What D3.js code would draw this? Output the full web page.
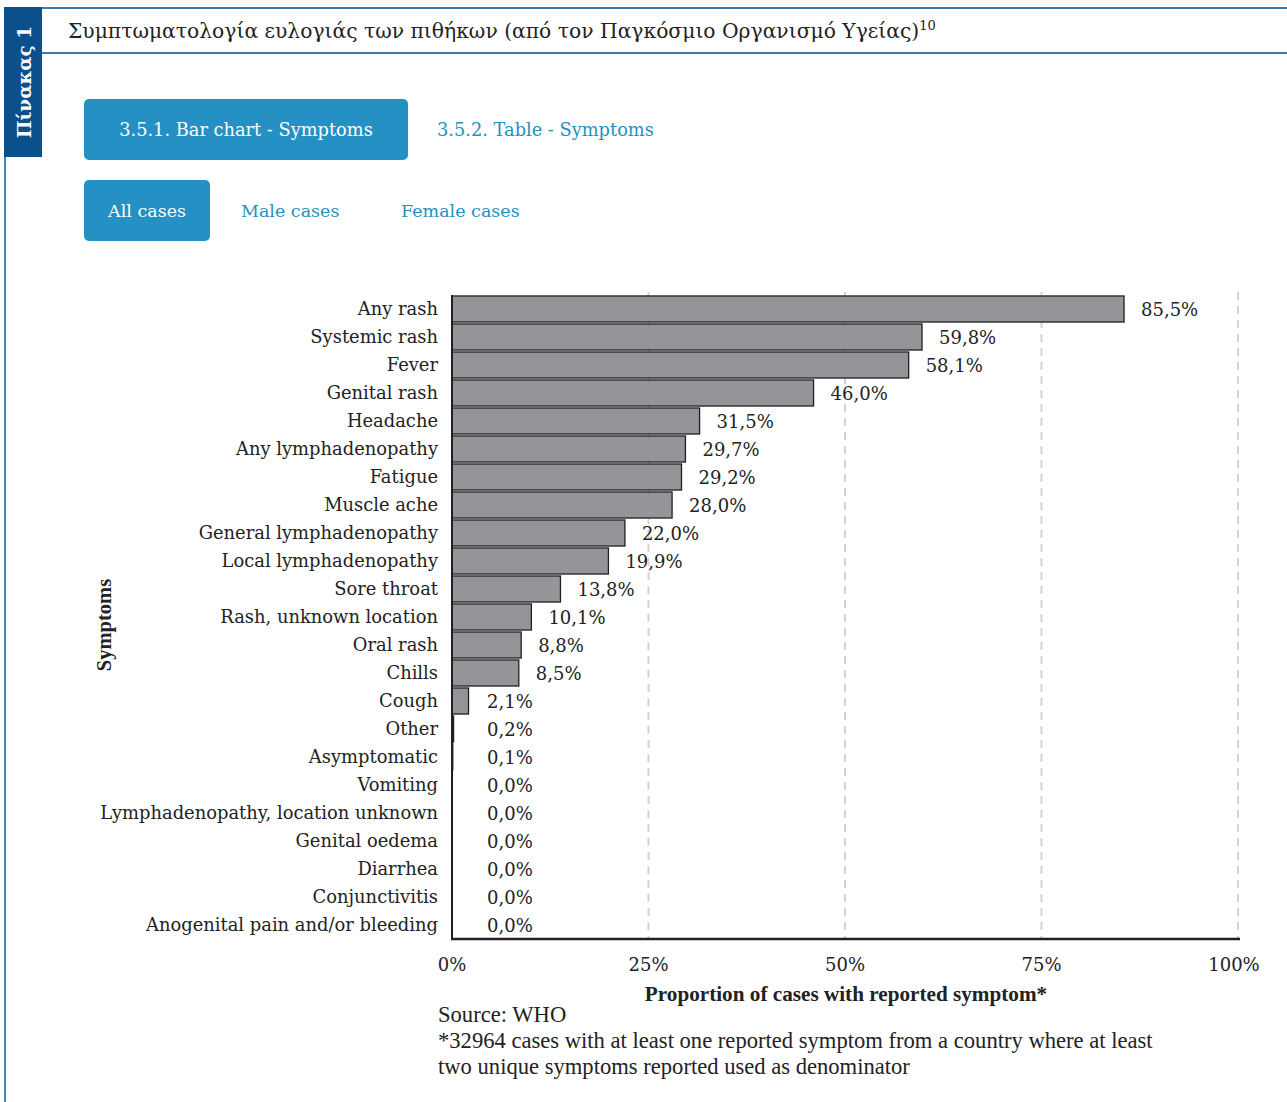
<!DOCTYPE html>
<html><head><meta charset="utf-8">
<script src="https://cdn.jsdelivr.net/npm/d3@7"></script>
<style>
html,body{margin:0;padding:0;background:#fff;}
svg{display:block;}
</style></head>
<body>
<script>
const categories = ["Any rash","Systemic rash","Fever","Genital rash","Headache","Any lymphadenopathy","Fatigue","Muscle ache","General lymphadenopathy","Local lymphadenopathy","Sore throat","Rash, unknown location","Oral rash","Chills","Cough","Other","Asymptomatic","Vomiting","Lymphadenopathy, location unknown","Genital oedema","Diarrhea","Conjunctivitis","Anogenital pain and/or bleeding"];
const values = [85.5,59.8,58.1,46.0,31.5,29.7,29.2,28.0,22.0,19.9,13.8,10.1,8.8,8.5,2.1,0.2,0.1,0.0,0.0,0.0,0.0,0.0,0.0];
const xTicks = [0,25,50,75,100];
const tickLabels = ["0%","25%","50%","75%","100%"];
const title = "Συμπτωματολογία ευλογιάς των πιθήκων (από τον Παγκόσμιο Οργανισμό Υγείας)";
const titleSup = "10";
const tabLabel = "Πίνακας 1";
const tabs1 = ["3.5.1. Bar chart - Symptoms","3.5.2. Table - Symptoms"];
const tabs2 = ["All cases","Male cases","Female cases"];
const xAxisTitle = "Proportion of cases with reported symptom*";
const yAxisTitle = "Symptoms";
const notes = ["Source: WHO","*32964 cases with at least one reported symptom from a country where at least","two unique symptoms reported used as denominator"];

const W = 1287, H = 1102;
const serif = "'DejaVu Serif', serif";
const serif2 = "'Liberation Serif', serif";
const blue = "#2590c3";
const dark = "#231f20";

const svg = d3.select("body").append("svg").attr("width", W).attr("height", H);

// frame
svg.append("rect").attr("x",4).attr("y",7).attr("width",38).attr("height",150).attr("fill","#0b4f8c");
svg.append("line").attr("x1",42).attr("x2",W).attr("y1",8).attr("y2",8).attr("stroke","#3f78ad").attr("stroke-width",2);
svg.append("line").attr("x1",42).attr("x2",W).attr("y1",53).attr("y2",53).attr("stroke","#3f78ad").attr("stroke-width",2);
svg.append("line").attr("x1",5).attr("x2",5).attr("y1",157).attr("y2",H).attr("stroke","#4a86b8").attr("stroke-width",2);
svg.append("text").attr("transform","translate(31,82) rotate(-90)").attr("text-anchor","middle")
  .attr("font-family",serif).attr("font-weight","bold").attr("font-size",18.5).attr("fill","#fff").text(tabLabel);

const t = svg.append("text").attr("x",68).attr("y",38).attr("font-family",serif).attr("font-size",20.3).attr("fill","#222");
t.append("tspan").text(title);
t.append("tspan").attr("dy",-8).attr("font-size",13).text(titleSup);

// tabs
svg.append("rect").attr("x",84).attr("y",99).attr("width",324).attr("height",61).attr("rx",5).attr("fill",blue);
svg.append("text").attr("x",246).attr("y",136).attr("text-anchor","middle").attr("font-family",serif).attr("font-size",17.8).attr("fill","#fff").text(tabs1[0]);
svg.append("text").attr("x",437).attr("y",136).attr("font-family",serif).attr("font-size",17.8).attr("fill",blue).text(tabs1[1]);
svg.append("rect").attr("x",84).attr("y",180).attr("width",126).attr("height",61).attr("rx",5).attr("fill",blue);
svg.append("text").attr("x",147).attr("y",217).attr("text-anchor","middle").attr("font-family",serif).attr("font-size",17.5).attr("fill","#fff").text(tabs2[0]);
svg.append("text").attr("x",241).attr("y",217).attr("font-family",serif).attr("font-size",17.5).attr("fill",blue).text(tabs2[1]);
svg.append("text").attr("x",401).attr("y",217).attr("font-family",serif).attr("font-size",17.5).attr("fill",blue).text(tabs2[2]);

// chart
const x = d3.scaleLinear().domain([0,100]).range([452,1238]);
const y = d3.scaleBand().domain(categories).range([295,939]).paddingInner(0.07).paddingOuter(0.035);

const g = svg.append("g");
g.selectAll("line.grid").data(xTicks.slice(1)).join("line").attr("class","grid")
  .attr("x1",d=>x(d)).attr("x2",d=>x(d)).attr("y1",292).attr("y2",939)
  .attr("stroke","#d3d3d3").attr("stroke-width",2).attr("stroke-dasharray","8,6");

g.selectAll("rect.bar").data(values).join("rect").attr("class","bar")
  .attr("x",x(0)).attr("y",(d,i)=>y(categories[i]))
  .attr("width",d=>x(d)-x(0)).attr("height",y.bandwidth())
  .attr("fill","#939598").attr("stroke",dark).attr("stroke-width",1.3);

g.selectAll("text.val").data(values).join("text").attr("class","val")
  .attr("x",d=>Math.max(x(d)+17,487)).attr("y",(d,i)=>y(categories[i])+y.bandwidth()/2+7)
  .attr("font-family",serif).attr("font-size",18).attr("fill","#222")
  .text(d=>d.toFixed(1).replace(".",",")+"%");

g.selectAll("text.cat").data(categories).join("text").attr("class","cat")
  .attr("x",438).attr("y",d=>y(d)+y.bandwidth()/2+6).attr("text-anchor","end")
  .attr("font-family",serif).attr("font-size",17.9).attr("fill","#222").text(d=>d);

// axes lines
g.append("line").attr("x1",452).attr("x2",452).attr("y1",295).attr("y2",940).attr("stroke",dark).attr("stroke-width",2);
g.append("line").attr("x1",451).attr("x2",1240).attr("y1",939).attr("y2",939).attr("stroke",dark).attr("stroke-width",2.5);

g.selectAll("text.tick").data(xTicks).join("text").attr("class","tick")
  .attr("x",(d,i)=> i===xTicks.length-1 ? x(d)-4 : x(d)).attr("y",971).attr("text-anchor","middle")
  .attr("font-family",serif).attr("font-size",18).attr("fill","#222").text((d,i)=>tickLabels[i]);

svg.append("text").attr("x",846).attr("y",1001).attr("text-anchor","middle").attr("font-family",serif2).attr("font-weight","bold").attr("font-size",21.2).attr("fill","#222").text(xAxisTitle);
svg.append("text").attr("transform","translate(111,625) rotate(-90)").attr("text-anchor","middle").attr("font-family",serif2).attr("font-weight","bold").attr("font-size",20.5).attr("fill","#222").text(yAxisTitle);

svg.selectAll("text.note").data(notes).join("text").attr("class","note")
  .attr("x",438).attr("y",(d,i)=>1022+i*26).attr("font-family",serif2).attr("font-size",22.6).attr("fill","#222").text(d=>d);
</script>
</body></html>
